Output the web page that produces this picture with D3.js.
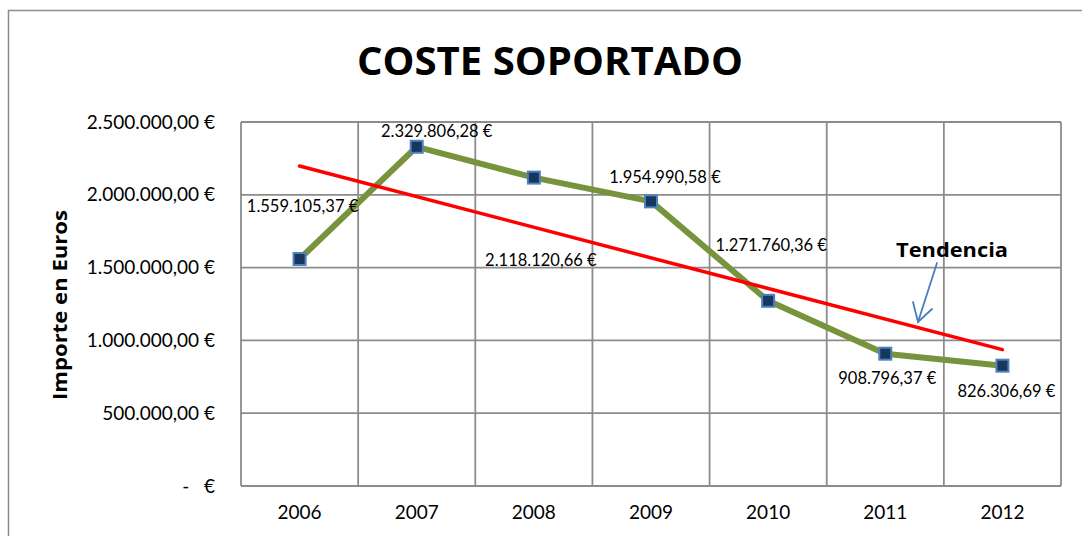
<!DOCTYPE html>
<html>
<head>
<meta charset="utf-8">
<script src="https://cdn.jsdelivr.net/npm/d3@7"></script>
<style>
    body { margin: 0; background: #fff; }
    text { font-family: Lato, "Open Sans", sans-serif; fill: #000; }
</style>
</head>
<body>
<div id="chart_area"></div>
<script>
// chart data
const years = ["2006", "2007", "2008", "2009", "2010", "2011", "2012"];
const coste = [1559105.37, 2329806.28, 2118120.66, 1954990.58, 1271760.36, 908796.37, 826306.69];
const y_ticks = [0, 500000, 1000000, 1500000, 2000000, 2500000];
const title_text = "COSTE SOPORTADO";
const y_title_text = "Importe en Euros";
const trend_text = "Tendencia";

// label offsets from each point (dx, dy), these are placement only
const label_offsets = [[3, -53], [20, -16], [7, 83], [14, -24], [3, -56], [2, 25], [4, 26]];

const width = 1082, height = 536;

const svg = d3.select("#chart_area")
    .append("svg")
    .attr("width", width)
    .attr("height", height);

// outer chart border (right and bottom are cut off in the picture)
svg.append("rect")
    .attr("x", 8.5).attr("y", 10.5)
    .attr("width", 1200).attr("height", 700)
    .attr("fill", "none")
    .attr("stroke", "#8c8c8c")
    .attr("stroke-width", 1.5);

const plot = {left: 241, right: 1061, top: 122, bottom: 486};

const x = d3.scaleBand()
    .domain(years)
    .range([plot.left, plot.right]);

const y = d3.scaleLinear()
    .domain([0, 2500000])
    .range([plot.bottom, plot.top]);

// spanish number format: 1.559.105,37 €
const es = d3.formatLocale({decimal: ",", thousands: ".", grouping: [3], currency: ["", " €"]});
const fmt = es.format(",.2f");
const fmt_euro = function (v) {
    return v === 0 ? "-   €" : fmt(v) + " €";
};

// grid
const grid = svg.append("g");
grid.selectAll("line.h")
    .data(y_ticks)
    .enter().append("line")
    .attr("class", "h")
    .attr("x1", plot.left).attr("x2", plot.right)
    .attr("y1", d => y(d)).attr("y2", d => y(d))
    .attr("stroke", "#8c8c8c").attr("stroke-width", 1.8);

grid.selectAll("line.v")
    .data(years.concat(["end"]))
    .enter().append("line")
    .attr("class", "v")
    .attr("x1", (d, i) => plot.left + i * x.step())
    .attr("x2", (d, i) => plot.left + i * x.step())
    .attr("y1", plot.top).attr("y2", plot.bottom)
    .attr("stroke", "#8c8c8c").attr("stroke-width", 1.8);

// y axis labels
const y_axis = svg.append("g")
    .attr("transform", "translate(" + (plot.left - 26) + ",0)")
    .call(d3.axisLeft(y).tickValues(y_ticks).tickFormat(fmt_euro).tickSize(0).tickPadding(0));
y_axis.select(".domain").remove();
y_axis.selectAll("text")
    .style("font-family", "Lato, sans-serif")
    .style("font-size", "19px")
    .style("white-space", "pre")
    .attr("fill", "#000");

// x axis labels
const x_axis = svg.append("g")
    .attr("transform", "translate(0," + plot.bottom + ")")
    .call(d3.axisBottom(x).tickSize(0).tickPadding(20));
x_axis.select(".domain").remove();
x_axis.selectAll("text")
    .style("font-family", "Lato, sans-serif")
    .style("font-size", "19px")
    .attr("fill", "#000");

// title
svg.append("text")
    .attr("x", 550).attr("y", 75)
    .attr("text-anchor", "middle")
    .attr("textLength", 386)
    .attr("lengthAdjust", "spacingAndGlyphs")
    .style("font-family", "'Open Sans', sans-serif")
    .style("font-size", "39px")
    .style("font-weight", "bold")
    .text(title_text);

// y axis title
svg.append("text")
    .attr("transform", "translate(67,305) rotate(-90)")
    .attr("text-anchor", "middle")
    .attr("textLength", 190)
    .attr("lengthAdjust", "spacingAndGlyphs")
    .style("font-family", "'Open Sans', sans-serif")
    .style("font-size", "20px")
    .style("font-weight", "bold")
    .text(y_title_text);

const cx = d => x(d) + x.bandwidth() / 2;

// trend line: least squares fit of the series, like the excel trendline
const xs = coste.map((d, i) => i + 1);
const mx = d3.mean(xs), my = d3.mean(coste);
const slope = d3.sum(xs, (d, i) => (d - mx) * (coste[i] - my)) / d3.sum(xs, d => (d - mx) * (d - mx));
const intercept = my - slope * mx;
const trend = [years[0], years[years.length - 1]].map(function (yr) {
    const n = years.indexOf(yr) + 1;
    return {year: yr, value: intercept + slope * n};
});

// series line
const line = d3.line()
    .x(d => cx(d.year))
    .y(d => y(d.value));

const series = years.map((yr, i) => ({year: yr, value: coste[i]}));

svg.append("path")
    .datum(series)
    .attr("d", line)
    .attr("fill", "none")
    .attr("stroke", "#77933c")
    .attr("stroke-width", 6)
    .attr("stroke-linejoin", "round");

svg.append("path")
    .datum(trend)
    .attr("d", line)
    .attr("fill", "none")
    .attr("stroke", "#ff0000")
    .attr("stroke-width", 3.5)
    .attr("stroke-linecap", "round");

// markers
svg.append("g").selectAll("rect")
    .data(series)
    .enter().append("rect")
    .attr("x", d => cx(d.year) - 6)
    .attr("y", d => y(d.value) - 6)
    .attr("width", 12).attr("height", 12)
    .attr("fill", "#17375e")
    .attr("stroke", "#4f81bd")
    .attr("stroke-width", 2);

// data labels
svg.append("g").selectAll("text")
    .data(series)
    .enter().append("text")
    .attr("x", (d, i) => cx(d.year) + label_offsets[i][0])
    .attr("y", (d, i) => y(d.value) + label_offsets[i][1])
    .attr("dy", "0.35em")
    .attr("text-anchor", "middle")
    .style("font-size", "16.5px")
    .text(d => fmt(d.value) + " €");

// "Tendencia" annotation with arrow
svg.append("text")
    .attr("x", 952).attr("y", 257)
    .attr("text-anchor", "middle")
    .attr("textLength", 112)
    .attr("lengthAdjust", "spacingAndGlyphs")
    .style("font-family", "'Open Sans', sans-serif")
    .style("font-size", "20px")
    .style("font-weight", "bold")
    .text(trend_text);

const arrow = svg.append("g")
    .attr("stroke", "#4a7ebb")
    .attr("stroke-width", 1.8)
    .attr("fill", "none")
    .attr("stroke-linecap", "round");
arrow.append("line").attr("x1", 937).attr("y1", 263).attr("x2", 918).attr("y2", 322);
arrow.append("polyline").attr("points", "913,302 918,322 932,309");
</script>
</body>
</html>
